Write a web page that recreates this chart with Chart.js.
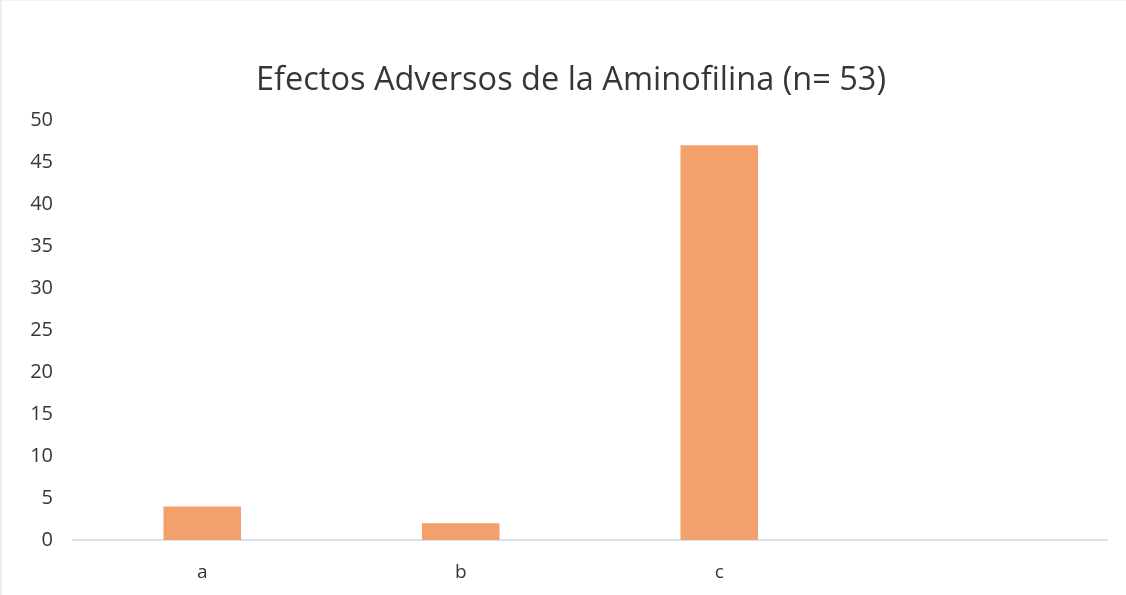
<!DOCTYPE html>
<html lang="es">
<head>
<meta charset="UTF-8">
<title>Efectos Adversos de la Aminofilina</title>
<script src="https://cdn.jsdelivr.net/npm/chart.js"></script>
<style>
    html, body { margin: 0; padding: 0; background: #fff; }
    #wrap {
        position: relative;
        width: 1126px;
        height: 595px;
        box-sizing: border-box;
        border-left: 2px solid #e6eef8;
        border-top: 1px solid #f0f4fa;
    }
</style>
</head>
<body>
<div id="wrap"><canvas id="chart"></canvas></div>
<script>
    const categories = ['a', 'b', 'c', ''];
    const values = [4, 2, 47, null];
    const yMax = 50;
    const yStep = 5;
    const titleText = 'Efectos Adversos de la Aminofilina (n= 53)';

    const textColor = '#363636';
    const fontFamily = '"Open Sans", "Noto Sans", sans-serif';

    new Chart(document.getElementById('chart'), {
        type: 'bar',
        data: {
            labels: categories,
            datasets: [{
                data: values,
                backgroundColor: '#F2A16D',
                borderWidth: 0,
                categoryPercentage: 1,
                barPercentage: 0.3
            }]
        },
        options: {
            responsive: true,
            maintainAspectRatio: false,
            animation: false,
            layout: { padding: { left: 14, right: 0, top: 0, bottom: 0 } },
            plugins: {
                legend: { display: false },
                tooltip: { enabled: false },
                title: {
                    display: true,
                    text: titleText,
                    color: textColor,
                    font: { family: fontFamily, size: 32.5, weight: 'normal' },
                    padding: { top: 60, bottom: 20 }
                }
            },
            scales: {
                x: {
                    grid: { display: false, drawTicks: false },
                    border: { display: true, color: '#d8e2f0', width: 2 },
                    ticks: {
                        color: textColor,
                        font: { family: fontFamily, size: 19 },
                        padding: 21
                    },
                    afterFit: (scale) => { scale.height = 55; }
                },
                y: {
                    min: 0,
                    max: yMax,
                    grid: { display: false, drawTicks: false },
                    border: { display: false },
                    ticks: {
                        stepSize: yStep,
                        color: textColor,
                        font: { family: fontFamily, size: 20 },
                        padding: 20
                    },
                    afterFit: (scale) => { scale.width = 57; }
                },
                // empty right-hand gutter so the plot ends where the original does
                yRight: {
                    position: 'right',
                    min: 0,
                    max: yMax,
                    grid: { display: false, drawTicks: false },
                    border: { display: false },
                    ticks: { display: false },
                    afterFit: (scale) => { scale.width = 19; }
                }
            }
        }
    });
</script>
</body>
</html>
